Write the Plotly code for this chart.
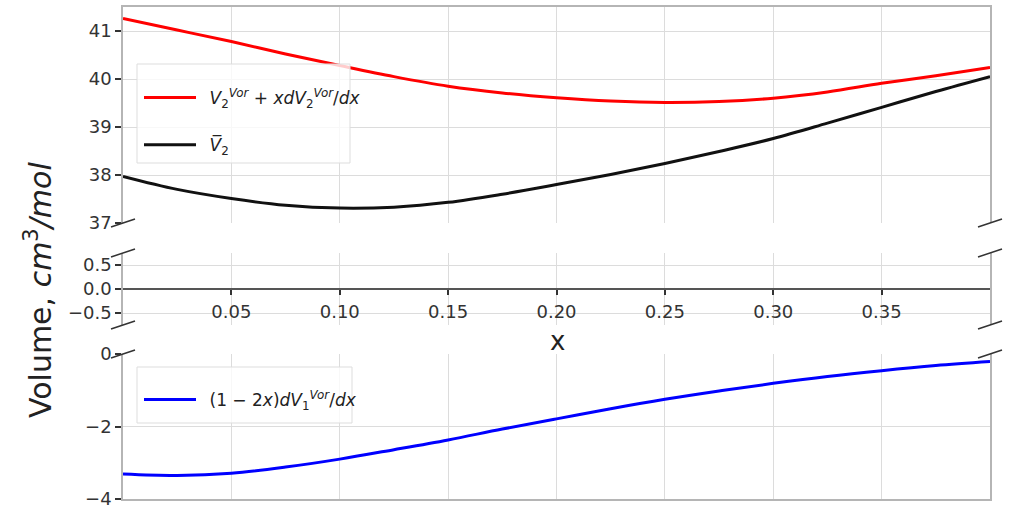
import plotly.graph_objects as go

# ---- data ----
x_vals = [0.0, 0.025, 0.05, 0.075, 0.1, 0.125, 0.15, 0.175, 0.2, 0.225,
          0.25, 0.275, 0.3, 0.325, 0.35, 0.375, 0.4]
red_vals = [41.26, 41.02, 40.78, 40.52, 40.28, 40.05, 39.85, 39.71, 39.61, 39.54,
            39.51, 39.53, 39.60, 39.73, 39.91, 40.07, 40.24]
black_vals = [37.97, 37.70, 37.51, 37.37, 37.31, 37.33, 37.43, 37.60, 37.80, 38.01,
              38.24, 38.49, 38.76, 39.08, 39.41, 39.74, 40.05]
blue_vals = [-3.31, -3.35, -3.29, -3.12, -2.90, -2.64, -2.37, -2.07, -1.79, -1.51,
             -1.25, -1.02, -0.81, -0.62, -0.46, -0.32, -0.21]

x_ticks = [0.05, 0.10, 0.15, 0.20, 0.25, 0.30, 0.35]
x_ticktext = ["0.05", "0.10", "0.15", "0.20", "0.25", "0.30", "0.35"]
top_ticks = [37, 38, 39, 40, 41]
mid_ticks = [-0.5, 0.0, 0.5]
mid_ticktext = ["\u22120.5", "0.0", "0.5"]
bot_ticks = [-4, -2, 0]
bot_ticktext = ["\u22124", "\u22122", "0"]

label_red = ("\u2002<i>V</i><sub>2</sub><sup><i>Vor</i></sup> + <i>x</i>"
             "<i>dV</i><sub>2</sub><sup><i>Vor</i></sup>/<i>dx</i>")
label_black = "\u2002<i>V\u0305</i><sub>2</sub>"
label_blue = "\u2002(1 \u2212 2<i>x</i>)<i>dV</i><sub>1</sub><sup><i>Vor</i></sup>/<i>dx</i>"

W, H = 1012, 509
def px(xp):
    return xp / W
def py(yp):
    return 1 - yp / H

xdom = [px(123), px(990)]
top_dom = [py(223), py(7)]
mid_dom = [py(325), py(253)]
bot_dom = [py(499), py(354)]

FONT = "DejaVu Sans"
GRID = "#dcdcdc"
SPINE = "#b5b5b5"
TICKC = "#333333"
TICKFONT = dict(family=FONT, size=18, color="#333")

fig = go.Figure()
fig.add_trace(go.Scatter(x=x_vals, y=red_vals, mode="lines", line=dict(color="#ff0000", width=3, shape="spline"),
                         name=label_red, xaxis="x", yaxis="y", legend="legend", legendgroup="a"))
fig.add_trace(go.Scatter(x=x_vals, y=black_vals, mode="lines", line=dict(color="#111111", width=3, shape="spline"),
                         name=label_black, xaxis="x", yaxis="y", legend="legend", legendgroup="b"))
fig.add_trace(go.Scatter(x=[], y=[], mode="lines", showlegend=False, xaxis="x2", yaxis="y2"))
fig.add_trace(go.Scatter(x=x_vals, y=blue_vals, mode="lines", line=dict(color="#0000ff", width=3, shape="spline"),
                         name=label_blue, xaxis="x3", yaxis="y3", legend="legend2"))

common_x = dict(domain=xdom, range=[0, 0.4], tickvals=x_ticks, showgrid=True, gridcolor=GRID, gridwidth=1,
                zeroline=False, automargin=False)
common_y = dict(showgrid=True, gridcolor=GRID, gridwidth=1, showline=True, linecolor=SPINE,
                linewidth=1.5, mirror=True, ticks="outside", ticklen=6, tickwidth=2, tickcolor=TICKC,
                tickfont=TICKFONT, automargin=False, ticklabeloverflow="allow")

fig.update_layout(
    width=W, height=H, margin=dict(l=0, r=0, t=0, b=0, autoexpand=False),
    paper_bgcolor="white", plot_bgcolor="white", showlegend=True,
    xaxis=dict(**common_x, anchor="y", side="top", showline=True, linecolor=SPINE, linewidth=1.5,
               showticklabels=False, ticks=""),
    yaxis=dict(**common_y, zeroline=False, domain=top_dom, range=[37, 41.5], tickvals=top_ticks),
    xaxis2=dict(**common_x, anchor="free", position=py(289), showline=False, ticks="outside", ticklen=5,
                tickwidth=2, tickcolor=TICKC, ticktext=x_ticktext, tickfont=TICKFONT, ticklabelstandoff=1),
    yaxis2=dict(**common_y, domain=mid_dom, range=[-0.75, 0.75],
                tickvals=mid_ticks, ticktext=mid_ticktext, zeroline=True, zerolinecolor="#555555",
                zerolinewidth=1.5, anchor="x2"),
    xaxis3=dict(**common_x, anchor="y3", showline=True, linecolor=SPINE, linewidth=1.5,
                showticklabels=False, ticks=""),
    yaxis3=dict(**common_y, zeroline=False, domain=bot_dom, range=[-4, 0], tickvals=bot_ticks,
                ticktext=bot_ticktext),
    legend=dict(x=px(139), y=py(80), xanchor="left", yanchor="top", bgcolor="rgba(0,0,0,0)",
                borderwidth=0, font=dict(family=FONT, size=17, color="#222"),
                traceorder="grouped", tracegroupgap=22, itemwidth=52),
    legend2=dict(x=px(139), y=py(382), xanchor="left", yanchor="top", bgcolor="rgba(0,0,0,0)",
                 borderwidth=0, font=dict(family=FONT, size=17, color="#222"), itemwidth=52),
)

# legend frames (matplotlib-style translucent boxes)
for x0, y0, x1, y1 in [(137, 64, 350, 163), (137, 367, 352, 423)]:
    fig.add_shape(type="rect", xref="paper", yref="paper", x0=px(x0), y0=py(y1), x1=px(x1), y1=py(y0),
                  fillcolor="rgba(255,255,255,0.8)", line=dict(color="#dddddd", width=1), layer="above")

# y-axis title and x label
fig.add_annotation(text="Volume, <i>cm</i><sup>3</sup><i>/mol</i>", xref="paper", yref="paper",
                   x=px(38), y=py(290), xanchor="center", yanchor="middle", showarrow=False, textangle=-90,
                   font=dict(family=FONT, size=30, color="#222"))
fig.add_annotation(text="x", xref="paper", yref="paper", x=px(557), y=py(341), xanchor="center",
                   yanchor="middle", showarrow=False, font=dict(family=FONT, size=26, color="#222"))

# broken-axis diagonal marks
for cx, cy in [(123, 223), (990, 223), (123, 253), (990, 253), (123, 325), (990, 325), (123, 354), (990, 354)]:
    fig.add_shape(type="line", xref="paper", yref="paper", x0=px(cx - 12), y0=py(cy + 4),
                  x1=px(cx + 12), y1=py(cy - 4), line=dict(color="#333333", width=1.5))

fig.write_html("out.html")
